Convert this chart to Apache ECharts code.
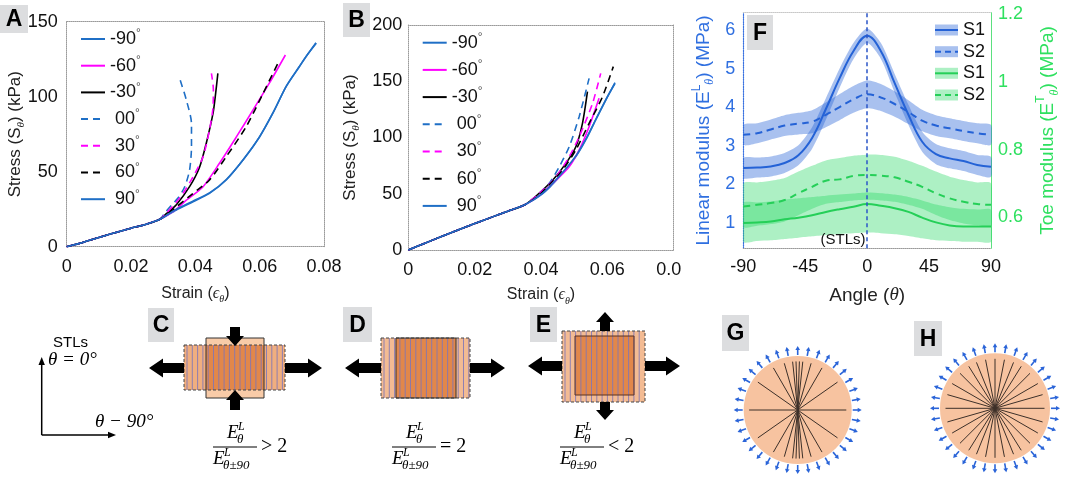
<!DOCTYPE html>
<html>
<meta charset="UTF-8">
<meta name="viewport" content="width=device-width, initial-scale=1">
<title>stress-strain-modulus</title>
<style type="text/css">
    html,
    body {
        margin: 0px;
        height: 100%;
        width: 100%;
        background: #fff;
    }

    .container {
        width: 1065px;
        height: 477px;
    }
</style>
<script src="https://cdn.jsdelivr.net/npm/echarts@6/dist/echarts.min.js"></script>

<body>
    <div class="container" id="chart"></div>
    <script>
        // ---- data ----
        const legendNames = ['-90', '-60', '-30', '00', '30', '60', '90'];

        // panel A: [strain, stress kPa]; all curves share the toe region
        const toeA = [[0, 0], [0.005, 2.8], [0.01, 6.2], [0.015, 9.3], [0.02, 12.3], [0.025, 15.2], [0.029, 18.3]];
        const tailA_m90 = [[0.0341, 24.5], [0.0393, 30], [0.0444, 35.6], [0.0496, 44.5], [0.0548, 57.8], [0.0599, 73], [0.0641, 89], [0.0682, 106.7], [0.0723, 120], [0.0744, 126.7], [0.0775, 136]];
        const tailA_m60 = [[0.0335, 24], [0.0372, 31], [0.0424, 40], [0.0475, 55.6], [0.0527, 73], [0.0579, 91], [0.063, 109], [0.068, 127.8]];
        const tailA_m30 = [[0.031, 22], [0.0341, 28], [0.0382, 40], [0.0413, 53], [0.0434, 69], [0.0455, 89], [0.0463, 102], [0.047, 115.6]];
        const tailA_00 = [[0.0305, 22.5], [0.0325, 27.5], [0.0348, 33], [0.0367, 40], [0.0382, 51], [0.0388, 66.7], [0.0388, 82], [0.0372, 97.8], [0.0353, 111]];
        const tailA_30 = [[0.031, 22.5], [0.034, 29.5], [0.0362, 35.6], [0.0393, 46.7], [0.0424, 60], [0.0444, 78], [0.0455, 93], [0.0456, 105], [0.045, 115.6]];
        const tailA_60 = [[0.0341, 26.5], [0.0393, 35.6], [0.0444, 44.5], [0.0496, 60], [0.0558, 80], [0.061, 102], [0.0656, 122]];
        const tailA_90 = [[0.034, 24.8], [0.0392, 30.3], [0.0445, 36], [0.0497, 45], [0.055, 58.3], [0.06, 73.4], [0.0642, 89.5], [0.0683, 107], [0.0722, 119.6], [0.0745, 127], [0.0776, 135.6]];

        // panel B
        const toeB = [[0, 0], [0.005, 6], [0.01, 12], [0.015, 17.8], [0.02, 23.5], [0.025, 29], [0.03, 34.5], [0.035, 40]];
        const tailB_m90 = [[0.0405, 50], [0.0455, 65], [0.0505, 83], [0.0535, 97.8], [0.0565, 115.6], [0.0595, 133], [0.0623, 148.7]];
        const tailB_m60 = [[0.0395, 48.5], [0.0445, 62], [0.0485, 74], [0.0515, 89], [0.0545, 109.6], [0.0575, 134.8]];
        const tailB_m30 = [[0.0385, 48], [0.0435, 62], [0.0475, 77], [0.0505, 91.8], [0.0525, 112.6], [0.054, 140.7]];
        const tailB_00 = [[0.0385, 47.4], [0.0425, 59.3], [0.0455, 74], [0.0485, 91.8], [0.0515, 118.5], [0.0545, 152.6]];
        const tailB_30 = [[0.0395, 50.4], [0.0445, 65], [0.0485, 83], [0.0515, 100.7], [0.0555, 130], [0.058, 157]];
        const tailB_60 = [[0.0395, 49], [0.0425, 58], [0.0465, 71], [0.0505, 89], [0.0545, 112.6], [0.0585, 136], [0.0618, 163]];
        const tailB_90 = [[0.0405, 50.5], [0.0455, 65.5], [0.0505, 83.5], [0.0535, 98.5], [0.0565, 116], [0.0595, 133.5], [0.0623, 148]];

        // panel F: angle grid and moduli (left axis: linear, right axis: toe)
        const angleF = [-90, -80, -70, -60, -50, -40, -30, -20, -10, 0, 10, 20, 30, 40, 50, 60, 70, 80, 90];
        const linS1 = [2.42, 2.43, 2.46, 2.55, 2.75, 3.2, 3.95, 4.75, 5.45, 5.85, 5.45, 4.62, 3.8, 3.1, 2.78, 2.67, 2.6, 2.5, 2.45];
        const linS1Lo = [2.16, 2.17, 2.2, 2.29, 2.49, 2.92, 3.67, 4.5, 5.24, 5.66, 5.25, 4.38, 3.54, 2.84, 2.52, 2.41, 2.34, 2.24, 2.19];
        const linS1Hi = [2.68, 2.69, 2.72, 2.81, 3.01, 3.48, 4.23, 5.0, 5.66, 6.04, 5.66, 4.86, 4.06, 3.36, 3.04, 2.93, 2.86, 2.76, 2.71];
        const linS2 = [3.28, 3.32, 3.42, 3.52, 3.57, 3.62, 3.8, 4.0, 4.2, 4.33, 4.25, 4.08, 3.87, 3.65, 3.52, 3.45, 3.38, 3.32, 3.28];
        const linS2Lo = [3.02, 3.06, 3.16, 3.25, 3.29, 3.32, 3.48, 3.66, 3.85, 3.97, 3.9, 3.75, 3.56, 3.37, 3.25, 3.19, 3.12, 3.06, 3.02];
        const linS2Hi = [3.54, 3.58, 3.68, 3.79, 3.85, 3.92, 4.12, 4.34, 4.55, 4.69, 4.6, 4.41, 4.18, 3.93, 3.79, 3.71, 3.64, 3.58, 3.54];
        const toeS1 = [0.583, 0.585, 0.588, 0.594, 0.599, 0.606, 0.616, 0.624, 0.631, 0.639, 0.634, 0.627, 0.616, 0.599, 0.585, 0.576, 0.573, 0.573, 0.573];
        const toeS1Lo = [0.528, 0.53, 0.532, 0.536, 0.54, 0.544, 0.548, 0.551, 0.553, 0.555, 0.553, 0.55, 0.545, 0.538, 0.532, 0.53, 0.528, 0.528, 0.528];
        const toeS1Hi = [0.642, 0.644, 0.647, 0.652, 0.656, 0.66, 0.664, 0.667, 0.67, 0.673, 0.671, 0.667, 0.66, 0.65, 0.638, 0.63, 0.625, 0.623, 0.622];
        const toeS2 = [0.632, 0.637, 0.642, 0.651, 0.671, 0.69, 0.708, 0.712, 0.722, 0.725, 0.723, 0.718, 0.705, 0.69, 0.671, 0.656, 0.646, 0.639, 0.637];
        const toeS2Lo = [0.572, 0.575, 0.58, 0.588, 0.606, 0.625, 0.64, 0.645, 0.65, 0.652, 0.65, 0.646, 0.637, 0.625, 0.607, 0.592, 0.582, 0.577, 0.575];
        const toeS2Hi = [0.7, 0.703, 0.708, 0.716, 0.735, 0.752, 0.768, 0.775, 0.782, 0.785, 0.784, 0.779, 0.767, 0.752, 0.735, 0.72, 0.71, 0.703, 0.7];
        const linTicks = [1, 2, 3, 4, 5, 6];
        const toeTicks = [0.6, 0.8, 1, 1.2];

        // fibre directions drawn in G and H (degrees from horizontal)
        const fibresG = [0, 35, 60, 74, 84, 88, 92, 96, 106, 120, 145];
        const fibresH = [0, 16, 30, 45, 58, 68, 79, 90, 101, 112, 122, 135, 150, 164];

        const SANS = '"Liberation Sans", Arial, sans-serif';
        const SERIF = '"Liberation Serif", "Times New Roman", serif';
        const BLUE = '#1f6fc6', MAG = '#ff00ff';
        const colA = [BLUE, MAG, '#000', BLUE, MAG, '#000', BLUE];
        const dashA = ['solid', 'solid', 'solid', [7, 5], [7, 5], [7, 5], 'solid'];
        const curvesA = [tailA_m90, tailA_m60, tailA_m30, tailA_00, tailA_30, tailA_60, tailA_90].map(t => toeA.concat(t));
        const curvesB = [tailB_m90, tailB_m60, tailB_m30, tailB_00, tailB_30, tailB_60, tailB_90].map(t => toeB.concat(t));

        const FB = '#2462d6', FG = '#25cf58';
        const bandBlue = 'rgba(40,100,215,0.40)', bandGreen = 'rgba(40,215,100,0.38)';

        const chart = echarts.init(document.querySelector('#chart'));

        const dotted = (c) => ({ show: true, onZero: false, lineStyle: { color: c, type: 'dotted', width: 1 } });
        const tickLabel = { fontSize: 18, color: '#111', fontFamily: SANS };

        function strainAxis(gi, gap) {
            return {
                type: 'value', gridIndex: gi, min: 0, max: 0.08, interval: 0.02,
                axisLine: dotted('#9a9a9a'), axisTick: { show: false }, splitLine: { show: false },
                axisLabel: Object.assign({ margin: 11, formatter: v => v === 0 ? '0' : v.toFixed(2) }, tickLabel),
                name: 'Strain ({e|ϵ}{s|θ})', nameLocation: 'middle', nameGap: gap, nameMoveOverlap: false,
                nameTextStyle: {
                    fontSize: 16, color: '#222', fontFamily: SANS, lineHeight: 22,
                    rich: { e: { fontFamily: SERIF, fontStyle: 'italic', fontSize: 16 }, s: { fontFamily: SERIF, fontStyle: 'italic', fontSize: 10, verticalAlign: 'bottom' } }
                }
            };
        }
        function stressAxis(gi, max, gap, margin) {
            return {
                type: 'value', gridIndex: gi, min: 0, max: max, interval: 50,
                axisLine: dotted('#9a9a9a'), axisTick: { show: false }, splitLine: { show: false },
                axisLabel: Object.assign({ margin: margin }, tickLabel),
                name: 'Stress (S{s|θ}) (kPa)', nameLocation: 'middle', nameRotate: 90, nameGap: gap, nameMoveOverlap: false,
                nameTextStyle: {
                    fontSize: 17, color: '#222', fontFamily: SANS, lineHeight: 22,
                    rich: { s: { fontFamily: SERIF, fontStyle: 'italic', fontSize: 11, verticalAlign: 'bottom' } }
                }
            };
        }
        function frameAxis(gi, pos, min, max, c) {
            return {
                type: 'value', gridIndex: gi, position: pos, min: min, max: max,
                axisLine: dotted(c || '#9a9a9a'), axisTick: { show: false }, axisLabel: { show: false }, splitLine: { show: false }
            };
        }

        function legendFor(left, top, gap) {
            return {
                data: legendNames, orient: 'vertical', left: left, top: top, padding: 0,
                itemWidth: 24, itemHeight: 14, itemGap: gap, selectedMode: false,
                itemStyle: { opacity: 0 },
                formatter: n => (n[0] === '-' ? '' : ' ') + n + '{d|°}',
                textStyle: {
                    fontSize: 18, color: '#111', fontFamily: SANS, lineHeight: 22,
                    rich: { d: { fontSize: 12, lineHeight: 12, verticalAlign: 'top', color: '#555' } }
                }
            };
        }

        const series = [];
        curvesA.forEach((d, i) => series.push({
            name: legendNames[i], type: 'line', xAxisIndex: 0, yAxisIndex: 0, data: d,
            symbol: 'none', smooth: 0.25, lineStyle: { color: colA[i], width: 1.6, type: dashA[i] }, itemStyle: { color: colA[i] }
        }));
        curvesB.forEach((d, i) => series.push({
            name: legendNames[i], type: 'line', xAxisIndex: 2, yAxisIndex: 2, data: d,
            symbol: 'none', smooth: 0.25, lineStyle: { color: colA[i], width: 1.6, type: dashA[i] }, itemStyle: { color: colA[i] }
        }));

        // spread bands: one closed polygon per band, placed through the axes
        function band(id, lo, hi, yIdx, color) {
            series.push({
                name: id, type: 'custom', xAxisIndex: 4, yAxisIndex: yIdx, silent: true, clip: true, z: 1,
                data: [[0, lo[9]]],
                renderItem: (params, api) => {
                    const top = angleF.map((a, i) => api.coord([a, hi[i]]));
                    const bot = angleF.map((a, i) => api.coord([a, lo[i]])).reverse();
                    return { type: 'polygon', shape: { points: top.concat(bot), smooth: 0.25 }, style: { fill: color } };
                }
            });
        }
        function mean(id, vals, yIdx, color, type) {
            series.push({
                name: id, type: 'line', xAxisIndex: 4, yAxisIndex: yIdx, silent: true,
                data: angleF.map((a, i) => [a, vals[i]]), symbol: 'none', smooth: 0.4,
                lineStyle: { color: color, width: 2, type: type }, z: 3
            });
        }
        band('toeS1 band', toeS1Lo, toeS1Hi, 5, bandGreen);
        band('toeS2 band', toeS2Lo, toeS2Hi, 5, bandGreen);
        band('linS1 band', linS1Lo, linS1Hi, 4, bandBlue);
        band('linS2 band', linS2Lo, linS2Hi, 4, bandBlue);
        mean('toe S1', toeS1, 5, FG, 'solid');
        mean('toe S2', toeS2, 5, FG, [7, 5]);
        mean('lin S2', linS2, 4, FB, [7, 5]);
        mean('lin S1', linS1, 4, FB, 'solid');
        series[series.length - 1].markLine = {
            silent: true, symbol: 'none', label: { show: false },
            lineStyle: { color: '#2b55c8', width: 1.5, type: [4, 3] },
            data: [{ xAxis: 0 }]
        };

        // ---- drawn figure parts (panel tags, schematics, F legend) ----
        const g = [];
        function rect(x, y, w, h, fill, stroke, dash, lw) {
            g.push({
                type: 'rect', z: 100, silent: true, shape: { x: x, y: y, width: w, height: h },
                style: { fill: fill || 'none', stroke: stroke || 'none', lineWidth: lw || 1, lineDash: dash || null }
            });
        }
        function seg(x1, y1, x2, y2, c, w, dash) {
            g.push({
                type: 'line', z: 100, silent: true, shape: { x1: x1, y1: y1, x2: x2, y2: y2 },
                style: { stroke: c, lineWidth: w || 1, lineDash: dash || null }
            });
        }
        function txt(x, y, s, font, fill, align) {
            g.push({
                type: 'text', z: 101, silent: true, x: x, y: y,
                style: { text: s, font: font, fill: fill || '#000', textAlign: align || 'left', textVerticalAlign: 'middle' }
            });
        }
        function poly(pts, fill) {
            g.push({ type: 'polygon', z: 101, silent: true, shape: { points: pts }, style: { fill: fill } });
        }
        function fatArrow(x0, y0, x1, y1, hl, sw, hw) {
            const L = Math.hypot(x1 - x0, y1 - y0), ux = (x1 - x0) / L, uy = (y1 - y0) / L, px = -uy, py = ux;
            const bx = x1 - ux * hl, by = y1 - uy * hl;
            poly([[x0 + px * sw, y0 + py * sw], [bx + px * sw, by + py * sw], [bx + px * hw, by + py * hw], [x1, y1],
            [bx - px * hw, by - py * hw], [bx - px * sw, by - py * sw], [x0 - px * sw, y0 - py * sw]], '#000');
        }
        function tag(x, y, w, h, letter) {
            rect(x, y, w, h, '#dcdddf');
            txt(x + w / 2, y + h / 2 + 1, letter, 'bold 23px ' + SANS, '#000', 'center');
        }
        function stripes(x0, x1, y0, y1) {
            for (let x = x0 + 3; x < x1 - 1; x += 5.3) seg(x, y0, x, y1, 'rgba(125,118,185,0.85)', 1);
        }
        function eTerm(x, yc, sub) {
            txt(x, yc, 'E', 'italic 19px ' + SERIF);
            txt(x + 11, yc - 6, 'L', 'italic 12px ' + SERIF);
            txt(x + 10, yc + 7, sub, 'italic 13px ' + SERIF);
        }
        function frac(xl, yb, op) {
            seg(xl, yb, xl + 44, yb, '#000', 1);
            eTerm(xl + 14, yb - 14, 'θ');
            eTerm(xl, yb + 12, 'θ±90');
            txt(xl + 48, yb, op, '20px ' + SERIF);
        }
        function disc(cx, cy, r, fibres) {
            g.push({ type: 'circle', z: 100, silent: true, shape: { cx: cx, cy: cy, r: r }, style: { fill: '#f7c3a0' } });
            fibres.forEach(a => {
                const t = a * Math.PI / 180, c = Math.cos(t), s = Math.sin(t), R = r * 0.9;
                seg(cx - R * c, cy + R * s, cx + R * c, cy - R * s, '#3d3029', 1);
            });
            for (let k = 0; k < 36; k++) {
                const t = k * 10 * Math.PI / 180, c = Math.cos(t), s = Math.sin(t);
                const r0 = r + 1, r1 = r + 10;
                seg(cx + r0 * c, cy - r0 * s, cx + (r1 - 3) * c, cy - (r1 - 3) * s, '#2a64d8', 1.6);
                const tx = cx + r1 * c, ty = cy - r1 * s, bx = cx + (r1 - 4) * c, by = cy - (r1 - 4) * s;
                poly([[tx, ty], [bx - 2.3 * s, by - 2.3 * c], [bx + 2.3 * s, by + 2.3 * c]], '#2a64d8');
            }
        }

        tag(0, 5, 28, 28, 'A');
        tag(343, 3, 27, 34, 'B');
        tag(747, 15, 26, 35, 'F');
        tag(148, 308, 26, 34, 'C');
        tag(343, 307, 29, 35, 'D');
        tag(530, 307, 27, 35, 'E');
        tag(722, 315, 27, 36, 'G');
        tag(914, 321, 28, 35, 'H');

        // cut-off last tick of B, as in the source figure
        rect(681, 256, 20, 26, '#fff');

        // F legend
        [[30, bandBlue, FB, null], [51.7, bandBlue, FB, [6, 4]], [73.3, bandGreen, FG, null], [95, bandGreen, FG, [6, 4]]].forEach((r, i) => {
            rect(935, r[0] - 5.5, 23, 11, r[1]);
            seg(935, r[0], 958, r[0], r[2], 2, r[3]);
            txt(963, r[0], i % 2 ? 'S2' : 'S1', '18px ' + SANS, '#111');
        });
        txt(843, 240, '(STLs)', '15px ' + SANS, '#111', 'center');

        // STLs reference axes
        seg(41.7, 435, 41.7, 362, '#000', 1.5);
        poly([[41.7, 357], [38.5, 365], [44.9, 365]], '#000');
        seg(41.7, 435, 111, 435, '#000', 1.5);
        poly([[116, 435], [108, 431.8], [108, 438.2]], '#000');
        txt(53, 343, 'STLs', '15px ' + SANS);
        txt(48, 360, 'θ = 0°', 'italic 19px ' + SERIF);
        txt(95, 422, 'θ − 90°', 'italic 19px ' + SERIF);

        // C: stretched along STLs, contracted across
        rect(206, 338, 58, 60, '#f8cba8');
        rect(184, 345, 101, 45, '#f0ae7f');
        rect(206, 345, 58, 45, '#e2874a');
        stripes(184, 285, 345, 390);
        rect(184, 345, 101, 45, null, '#444', [3, 2]);
        rect(206, 338, 58, 60, null, '#333');
        fatArrow(184, 368, 149, 368, 14, 5, 9.5);
        fatArrow(285, 368, 322, 368, 14, 5, 9.5);
        fatArrow(235, 327, 235, 346, 10, 5, 9);
        fatArrow(235, 410, 235, 390, 10, 5, 9);
        frac(213, 447, '> 2');

        // D: no lateral change
        rect(381, 338, 89, 60, '#f3bb93');
        rect(396, 338, 60, 60, '#e2874a');
        stripes(381, 470, 338, 398);
        rect(381, 338, 89, 60, null, '#444', [3, 2]);
        rect(396, 338, 60, 60, null, '#333');
        fatArrow(381, 368, 345, 368, 14, 5, 9.5);
        fatArrow(470, 368, 505, 368, 14, 5, 9.5);
        frac(392, 447, '= 2');

        // E: expands both ways
        rect(562, 331, 83, 71, '#f3bb93');
        rect(575, 336, 59, 59, '#e2874a');
        stripes(562, 645, 331, 402);
        rect(562, 331, 83, 71, null, '#444', [3, 2]);
        rect(575, 336, 59, 59, null, '#5a3222');
        fatArrow(562, 366, 528, 366, 14, 5, 9.5);
        fatArrow(645, 366, 680, 366, 14, 5, 9.5);
        fatArrow(605, 331, 605, 312, 10, 5, 9);
        fatArrow(605, 402, 605, 420, 10, 5, 9);
        frac(560, 447, '< 2');

        disc(797.7, 410, 54, fibresG);
        disc(995, 408.3, 55, fibresH);

        const options = {
            animation: false,
            backgroundColor: '#fff',
            textStyle: { fontFamily: SANS },
            grid: [
                { left: 66.7, top: 21.7, width: 257.3, height: 225, outerBoundsMode: 'none', containLabel: false },
                { left: 408.3, top: 25, width: 265.4, height: 225, outerBoundsMode: 'none', containLabel: false },
                { left: 743.3, top: 12.7, width: 247.7, height: 235.6, outerBoundsMode: 'none', containLabel: false }
            ],
            legend: [legendFor(80, 28, 4.7), legendFor(421.7, 31.7, 5.2)],
            xAxis: [
                strainAxis(0, 36),
                frameAxis(0, 'top', 0, 0.08),
                strainAxis(1, 34),
                frameAxis(1, 'top', 0, 0.08),
                {
                    type: 'value', gridIndex: 2, min: -90, max: 90, interval: 45,
                    axisLine: dotted('#9a9a9a'), axisTick: { show: false }, splitLine: { show: false },
                    axisLabel: Object.assign({ margin: 10 }, tickLabel),
                    name: 'Angle ({t|θ})', nameLocation: 'middle', nameGap: 35, nameMoveOverlap: false,
                    nameTextStyle: { fontSize: 19, color: '#222', fontFamily: SANS, lineHeight: 24, rich: { t: { fontFamily: SERIF, fontStyle: 'italic', fontSize: 19 } } }
                },
                frameAxis(2, 'top', -90, 90, '#c8c8c8')
            ],
            yAxis: [
                stressAxis(0, 150, 40, 9),
                frameAxis(0, 'right', 0, 150),
                stressAxis(1, 200, 47, 6),
                frameAxis(1, 'right', 0, 200),
                {
                    type: 'value', gridIndex: 2, position: 'left', min: 0.336, max: 6.449,
                    axisLine: { show: true, onZero: false, lineStyle: { color: '#3a72e0', type: 'dotted', width: 1.2 } },
                    axisTick: { show: false }, splitLine: { show: false },
                    axisLabel: { customValues: linTicks, margin: 8, fontSize: 18, color: '#2f6fe0', fontFamily: SANS },
                    name: 'Linear modulus (E{p|L}{b|θ}) (MPa)', nameLocation: 'middle', nameRotate: 90, nameGap: 27, nameMoveOverlap: false,
                    nameTextStyle: {
                        fontSize: 19, color: '#2f6fe0', fontFamily: SANS, lineHeight: 26,
                        rich: { p: { fontSize: 12, verticalAlign: 'top', lineHeight: 12 }, b: { fontSize: 12, fontFamily: SERIF, fontStyle: 'italic', verticalAlign: 'bottom', lineHeight: 12 } }
                    }
                },
                {
                    type: 'value', gridIndex: 2, position: 'right', min: 0.5086, max: 1.2038,
                    axisLine: { show: true, onZero: false, lineStyle: { color: '#5be07f', width: 1 } },
                    axisTick: { show: false }, splitLine: { show: false },
                    axisLabel: { customValues: toeTicks, margin: 7, fontSize: 18, color: '#2ee05f', fontFamily: SANS },
                    name: 'Toe modulus (E{p|T}{b|θ}) (MPa)', nameLocation: 'middle', nameRotate: 90, nameGap: 44, nameMoveOverlap: false,
                    nameTextStyle: {
                        fontSize: 19, color: '#2ee05f', fontFamily: SANS, lineHeight: 26,
                        rich: { p: { fontSize: 12, verticalAlign: 'top', lineHeight: 12 }, b: { fontSize: 12, fontFamily: SERIF, fontStyle: 'italic', verticalAlign: 'bottom', lineHeight: 12 } }
                    }
                }
            ],
            series: series,
            graphic: { elements: g }
        };
        chart.setOption(options);

    </script>
</body>

</html>
